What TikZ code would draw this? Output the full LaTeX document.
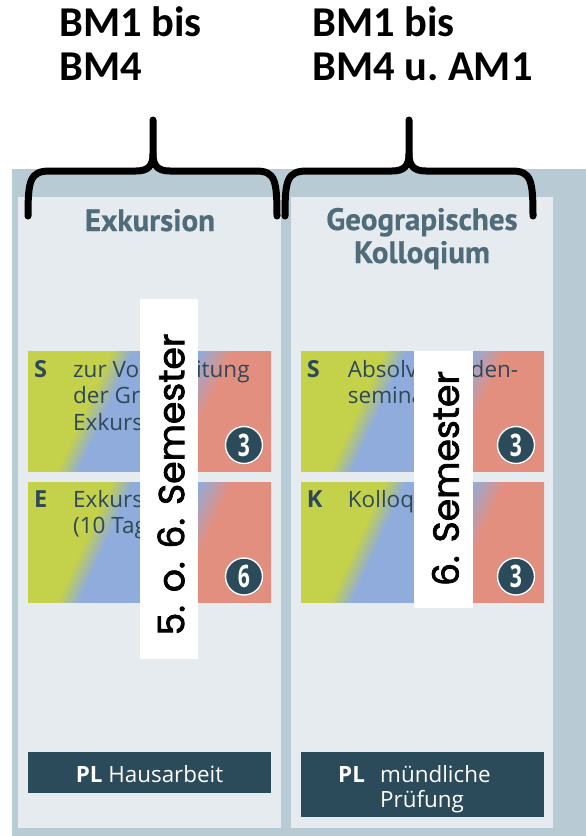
\documentclass[tikz,border=0pt]{standalone}
\usepackage{fontspec}
\usetikzlibrary{calc,shadows}
\newfontfamily\topfont{Carlito}
\newfontfamily\hdrfont[FakeBold=0.5]{PT Sans}
\newfontfamily\txtfont{Open Sans}
\newfontfamily\vfont[FakeBold=2]{Poppins}
\definecolor{outerbg}{HTML}{B8CBD4}
\definecolor{colbg}{HTML}{E6EBEF}
\definecolor{dark}{HTML}{2B4A5A}
\definecolor{hdr}{HTML}{506B79}
\definecolor{ctext}{HTML}{2E4859}
\definecolor{cgreen}{HTML}{C4D14A}
\definecolor{cblue}{HTML}{8FACDC}
\definecolor{cred}{HTML}{E38F80}
\pgfdeclarehorizontalshading{cardshade}{100bp}{color(0bp)=(cgreen); color(42.5bp)=(cgreen); color(45bp)=(cblue); color(52.5bp)=(cblue); color(56.25bp)=(cred); color(100bp)=(cred)}
\begin{document}
\begin{tikzpicture}[x=1pt,y=-1pt,
  brace/.style={line width=7pt, black, line cap=round, line join=round},
  hdrtext/.style={inner sep=0, anchor=base, text=hdr, font=\hdrfont\bfseries\fontsize{31}{33}\selectfont},
  toptext/.style={inner sep=0, anchor=base west, text=black, font=\topfont\bfseries\fontsize{42.5}{44}\selectfont\frenchspacing},
  cardbox/.style={rectangle, inner sep=0, minimum width=243pt, minimum height=120pt, anchor=north west,
    path picture={\shade[shading=cardshade, transform canvas={rotate around={-24.4:(path picture bounding box.center)}}]
      ($(path picture bounding box.center)+(-200,-200)$) rectangle ($(path picture bounding box.center)+(200,200)$);}},
  ctag/.style={inner sep=0, anchor=base west, text=ctext, font=\txtfont\bfseries\fontsize{23.5}{26}\selectfont},
  ctxt/.style={inner sep=0, anchor=base west, text=ctext, font=\txtfont\fontsize{22.5}{26}\selectfont},
  credit/.style={circle, fill=dark, draw=white, line width=1.4pt, minimum size=37pt, inner sep=0, text=white,
    font=\txtfont\bfseries\fontsize{31}{33}\selectfont, drop shadow={shadow xshift=0.8pt, shadow yshift=-1.3pt, opacity=0.35}},
  vtext/.style={inner sep=0, rotate=90, text=black, font=\vfont\fontsize{36.2}{40}\selectfont},
  pltext/.style={inner sep=0, text=white, font=\txtfont\fontsize{22.4}{25}\selectfont}
]
\useasboundingbox[fill=white] (0,0) rectangle (586,836);
% panels
\fill[outerbg] (11.7,169) rectangle (586,836);
\fill[colbg] (18.3,196.7) rectangle (281,827.7);
\fill[colbg] (291,196.7) rectangle (553.3,827.7);
% braces
\draw[brace] (28,216) .. controls (28,180) and (30,171) .. (50,171) -- (136,171) .. controls (148,171) and (153,166) .. (153,154) -- (153,120);
\draw[brace] (153,154) .. controls (153,166) and (158,171) .. (170,171) -- (256,171) .. controls (275,171) and (277,180) .. (277,216);
\draw[brace] (285,216) .. controls (285,180) and (287,171) .. (307,171) -- (392,171) .. controls (404,171) and (409,166) .. (409,154) -- (409,120);
\draw[brace] (409,154) .. controls (409,166) and (414,171) .. (426,171) -- (512,171) .. controls (531,171) and (533,180) .. (533,216);
% top labels
\node[toptext] (ta1) at (59,36.7) {BM1 bis};
\node[toptext] (ta2) at (59,80) {BM4};
\node[toptext] (tb1) at (312,36.7) {BM1 bis};
\node[toptext] (tb2) at (312,80) {BM4 u. AM1};
% headers
\node[hdrtext] (hexk) at (150,231) {Exkursion};
\node[hdrtext] (hgeo1) at (422,230) {Geograpisches};
\node[hdrtext] (hgeo2) at (422,263) {Kolloqium};
% cards
\node[cardbox] (cS1) at (28,351) {};
\node[cardbox] (cE1) at (28,482) {};
\node[cardbox] (cS2) at (301,351) {};
\node[cardbox] (cK2) at (301,482) {};
\node[ctag] (tS1) at (34,377) {S};
\node[ctxt] (tS1a) at (73,377) {zur Vorbereitung};
\node[ctxt] (tS1b) at (73,403.5) {der Großen};
\node[ctxt] (tS1c) at (73,430) {Exkursion};
\node[ctag] (tE1) at (34,507) {E};
\node[ctxt] (tE1a) at (73,507) {Exkursion};
\node[ctxt] (tE1b) at (73,533.5) {(10 Tage)};
\node[ctag] (tS2) at (306.7,377) {S};
\node[ctxt] (tS2a) at (347.7,377) {Absolvierenden-};
\node[ctxt] (tS2b) at (347.7,403) {seminar};
\node[ctag] (tK2) at (306.7,507) {K};
\node[ctxt] (tK2a) at (347.7,507) {Kolloquium};
% credits
\node[credit] (n1) at (244,445) {\scalebox{0.68}[1]{3}};
\node[credit] (n2) at (244,576.5) {\scalebox{0.68}[1]{6}};
\node[credit] (n3) at (516,445) {\scalebox{0.68}[1]{3}};
\node[credit] (n4) at (516,576.5) {\scalebox{0.68}[1]{3}};
% semester labels
\fill[white] (140,299) rectangle (197.7,659);
\fill[white] (414,351) rectangle (472.7,607.5);
\node[vtext] (v1) at (171,484.5) {5. o. 6. Semester};
\node[vtext] (v2) at (445.5,478.5) {6. Semester};
% exams
\fill[dark] (28,752) rectangle (271,793);
\fill[dark] (301,752) rectangle (544,817);
\node[pltext, anchor=base] (pl1) at (149.5,782) {\textbf{PL} Hausarbeit};
\node[pltext, anchor=base west] (pl2) at (338,782) {\textbf{PL}};
\node[pltext, anchor=base west] (pl2a) at (380,782) {mündliche};
\node[pltext, anchor=base west] (pl2b) at (380,807) {Prüfung};
\end{tikzpicture}
\end{document}
